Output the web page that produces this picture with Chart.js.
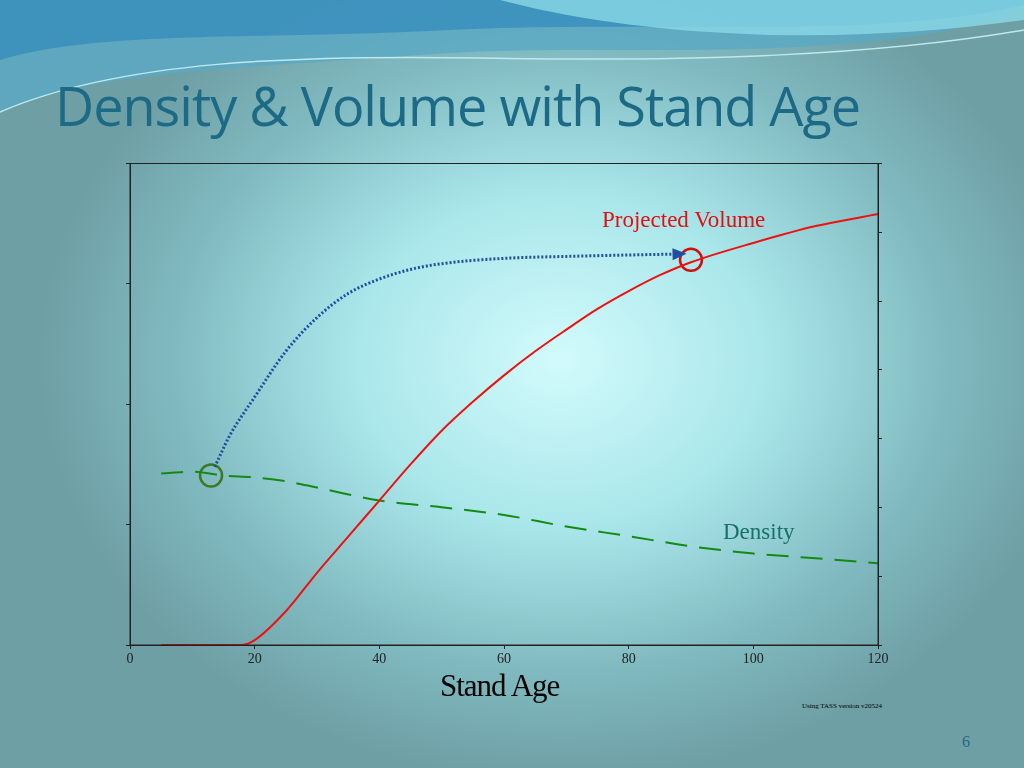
<!DOCTYPE html>
<html><head><meta charset="utf-8">
<script src="https://cdn.jsdelivr.net/npm/chart.js@4/dist/chart.umd.min.js"></script>
<style>
html,body{margin:0;padding:0;width:1024px;height:768px;overflow:hidden;}
body{position:relative;background:radial-gradient(ellipse 520px 420px at 560px 360px,#d2fbfc 0%,#a9e6ea 40%,#7fb9bf 75%,#6e9fa5 100%);}
#wave{position:absolute;left:0;top:0;width:1024px;height:130px;}
#title{position:absolute;left:55px;top:68px;font-family:"Open Sans",sans-serif;font-size:54px;color:#1c6a86;letter-spacing:-1px;}
#wrap{position:absolute;left:100px;top:150px;width:800px;height:543px;}
.t{position:absolute;white-space:nowrap;font-family:"Liberation Serif",serif;}
</style></head><body>
<svg id="wave" viewBox="0 0 1024 130">
<path d="M0,0 H1024 V10 C850,70 600,40 420,55 C250,68 90,70 0,112 Z" fill="#5aa9c4" opacity="0.8"/>
<path d="M0,0 H1024 V5 C880,40 650,20 450,30 C260,40 100,30 0,60 Z" fill="#2a86bd" opacity="0.6"/>
<path d="M500,0 C650,40 850,45 1024,20 V0 Z" fill="#8ad8e6" opacity="0.8"/>
<path d="M0,112 C120,60 300,55 480,58 C700,62 880,55 1024,30" stroke="#bfe9ef" stroke-width="1.5" fill="none"/>
</svg>
<div id="title">Density &amp; Volume with Stand Age</div>
<div id="wrap"><canvas id="c"></canvas></div>
<div class="t" style="left:602px;top:207px;font-size:23px;color:#e01010;">Projected Volume</div>
<div class="t" style="left:723px;top:519px;font-size:23px;color:#17706a;">Density</div>
<div class="t" style="left:440px;top:668px;font-size:31px;color:#000;letter-spacing:-1px;">Stand Age</div>
<div class="t" style="left:802px;top:702px;font-size:7px;color:#000;">Using TASS version v20524</div>
<div class="t" style="left:962px;top:733px;font-size:16px;color:#1c6a86;">6</div>
<script>
const ages=[5,18,20,25,30,35,40,45,50,55,60,65,70,75,80,85,90,100,110,120];
const volume=[0,0,1,7,15,22.5,30,37.5,44.5,50.5,56,61,65.5,69.8,73.5,76.8,79.5,83.5,87,89.5];
const densityAges=[5,10,15,20,25,30,40,50,60,70,80,90,100,110,120];
const density=[35.6,36,35.2,34.8,34,32.7,30,28.6,27,24.6,22.6,20.5,19,18,17];
const arrowAges=[13.6,16,20,25,30,35,40,45,50,60,70,80,88];
const arrowVals=[37,43.5,51.5,61,68,73,76,78,79.2,80.3,80.7,81,81.2];
const circleAges=[13,90];
const circleVals=[35.2,80];
const xTicks=[0,20,40,60,80,100,120];
const pts=(xs,ys)=>xs.map((x,i)=>({x,y:ys[i]}));
const frame={id:'frame',afterDraw(ch){const a=ch.chartArea,c=ch.ctx;c.save();c.strokeStyle='#222';c.lineWidth=1;c.strokeRect(a.left,a.top,a.right-a.left,a.bottom-a.top);
const m=ch.getDatasetMeta(2).data;const p=m[m.length-1],q=m[m.length-2];const ang=Math.atan2(p.y-q.y,p.x-q.x);
c.fillStyle='#1f4fa0';c.translate(p.x,p.y);c.rotate(ang);c.beginPath();c.moveTo(8,0);c.lineTo(-6,-6);c.lineTo(-6,6);c.closePath();c.fill();c.restore();}};
new Chart(document.getElementById('c'),{type:'line',
data:{datasets:[
{data:pts(ages,volume),borderColor:'#ee1111',borderWidth:2,pointRadius:0,cubicInterpolationMode:'monotone'},
{data:pts(densityAges,density),borderColor:'#138a13',borderWidth:2,borderDash:[22,12],pointRadius:0,cubicInterpolationMode:'monotone'},
{data:pts(arrowAges,arrowVals),borderColor:'#1f4fa0',borderWidth:3,borderDash:[2,2],pointRadius:0,cubicInterpolationMode:'monotone'},
{data:[{x:circleAges[0],y:circleVals[0]}],showLine:false,pointRadius:11,borderColor:'#3a7a20',borderWidth:2.5,backgroundColor:'transparent'},
{data:[{x:circleAges[1],y:circleVals[1]}],showLine:false,pointRadius:11,borderColor:'#d01010',borderWidth:2.5,backgroundColor:'transparent'}
]},
options:{responsive:true,maintainAspectRatio:false,animation:false,
layout:{padding:{top:12,left:0,right:0,bottom:0}},
plugins:{legend:{display:false},tooltip:{enabled:false}},
scales:{
x:{type:'linear',min:0,max:120,afterBuildTicks(s){s.ticks=xTicks.map(v=>({value:v}));},
 grid:{drawOnChartArea:false,color:'#222',tickLength:4},border:{color:'#222'},
 ticks:{color:'#222',font:{family:'Liberation Serif',size:14},padding:2},afterFit(s){s.height=48;}},
y:{min:0,max:100,ticks:{stepSize:25,display:false},grid:{drawOnChartArea:false,color:'#222',tickLength:4},border:{color:'#222'},afterFit(s){s.width=30;}},
y2:{position:'right',min:0,max:7,ticks:{stepSize:1,display:false},grid:{drawOnChartArea:false,color:'#222',tickLength:4},border:{color:'#222'},afterFit(s){s.width=22;}}
}},plugins:[frame]});
</script></body></html>
